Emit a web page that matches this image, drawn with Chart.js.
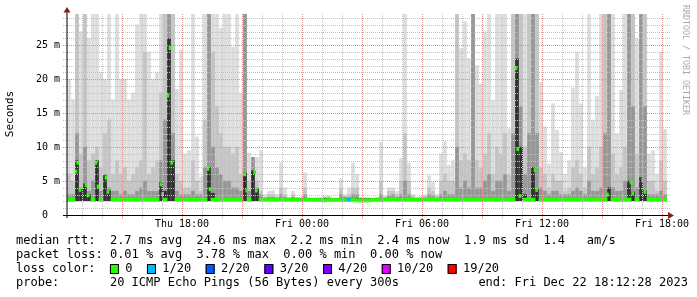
<!DOCTYPE html>
<html>
<head>
<meta charset="utf-8">
<script src="https://cdn.jsdelivr.net/npm/chart.js@4/dist/chart.umd.min.js"></script>
<style>
  html, body { margin: 0; padding: 0; background: #fff; }
  #wrap { width: 697px; height: 297px; position: relative; }
</style>
</head>
<body>
<div id="wrap"><canvas id="chart"></canvas></div>
<script>
// time axis: hours since Thu 00:00, one bin = 12 min
const startHour = 12.25;
const endHour = 42.25;
const binHours = 0.2;
const smokeFloor = 2.1;

// smoke, ms (top of each gray band, lightest to darkest)
const smokeMax = [
  20, 17, 29.6, 27, 29.6, 26, 29.6, 29.6, 21, 20,
  29.6, 17, 29.6, 20, 20, 17, 18, 28, 29.6, 29.6,
  24, 20, 21, 29.6, 29.6, 29.6, 29.6, 18.5, 24.3, 9,
  9.5, 29.6, 11.5, 5.6, 29.6, 29.6, 29.6, 29.6, 27.5, 29.6,
  29.6, 24.7, 29.6, 17.9, 29.6, 9.1, 8.5, 8.5, 9.5, 3,
  3.5, 3.6, 3, 7.7, 4, 2.6, 3.5, 2.6, 2.6, 6.2,
  2.6, 2.5, 2.5, 2.6, 2.8, 2.8, 2.5, 2.5, 5.3, 3,
  4, 7.6, 6, 2.6, 2.5, 2.5, 2.5, 2.6, 10.7, 2.8,
  4, 4, 3.5, 8.3, 29.6, 7.6, 3, 2.6, 2.8, 3,
  5.8, 4.8, 3, 9, 10.8, 7.3, 8, 29.6, 24.5, 28.5,
  23, 29.6, 22, 19.3, 27, 29.6, 16.8, 29.6, 29.6, 29.6,
  12.7, 29.6, 29.6, 29.6, 29.6, 29.6, 29.6, 29.6, 19.5, 13,
  7.5, 16.4, 12.5, 9.2, 6, 8, 18.7, 24, 16.4, 7,
  29.6, 14, 17.5, 29.6, 29.6, 29.6, 29.6, 12, 18.4, 29.6,
  29.6, 29.6, 26, 29.6, 29.6, 9, 9.5, 6, 24, 12.6
];
const smokeMid = [
  6, 5, 29.6, 9, 29.6, 8, 9, 10, 7, 12,
  14, 6, 8, 6, 7, 5, 6, 7, 8, 24,
  6, 7, 8, 18, 29.6, 29.6, 29.6, 6, 5, 4,
  4, 8, 5, 3.5, 14, 29.6, 24, 16, 12, 10,
  10, 9, 10, 6, 29.6, 5, 6, 5, 3.5, 2.6,
  3, 3, 2.6, 4, 3, 2.5, 3, 2.5, 2.5, 4,
  2.5, 2.5, 2.5, 2.5, 2.6, 2.6, 2.5, 2.5, 4, 2.8,
  3, 4, 4, 2.5, 2.5, 2.5, 2.5, 2.5, 5, 2.6,
  3.5, 3.5, 3, 5, 12, 5, 2.8, 2.5, 2.6, 2.8,
  4, 3.5, 2.8, 5, 6, 5, 5, 29.6, 8, 9,
  8, 29.6, 8, 7, 9, 12, 6, 10, 9, 12,
  6, 29.6, 29.6, 29.6, 10, 29.6, 29.6, 29.6, 7, 6,
  4, 6, 5, 5, 3.5, 4, 7, 8, 6, 4,
  10, 6, 7, 10, 29.6, 29.6, 9, 6, 7, 10,
  29.6, 29.6, 9, 29.6, 29.6, 5, 5, 3.5, 8, 5
];
const smokeDark = [
  3, 3, 12, 4, 10, 3.5, 5, 6, 3.5, 6,
  4, 3.5, 3.5, 3, 3.5, 3, 3, 3.5, 4, 5,
  3.5, 3.5, 3.5, 8, 14, 29.6, 12, 3.5, 3, 3,
  3, 3.5, 3, 3, 7, 29.6, 10, 7, 6, 5,
  5, 4, 4, 3.5, 29.6, 3.5, 8.5, 4, 3, 2.5,
  2.6, 2.6, 2.5, 3, 2.6, 2.4, 2.6, 2.4, 2.4, 3,
  2.4, 2.4, 2.4, 2.4, 2.5, 2.5, 2.4, 2.4, 3, 2.6,
  2.6, 3, 3, 2.4, 2.4, 2.4, 2.4, 2.4, 3, 2.4,
  2.8, 3, 2.6, 3, 5, 3, 2.5, 2.4, 2.4, 2.5,
  3, 2.8, 2.5, 3, 3.5, 3, 3, 10, 4, 5,
  4, 29.6, 4, 4, 5, 6, 3.5, 5, 5, 6,
  3.5, 12, 29.6, 16, 6, 12, 29.6, 12, 4, 3.5,
  3, 3.5, 3.5, 3, 3, 3, 3.5, 4, 3.5, 3,
  5, 3.5, 3.5, 4, 12, 29.6, 4, 3.5, 3.5, 5,
  29.6, 16, 4, 29.6, 16, 3, 3, 3, 3.5, 3
];
const smokeCore = [
  2.4, 2.4, 8, 3.8, 4.6, 3, 2.4, 8, 2.4, 5.8,
  3.6, 2.4, 2.4, 2.4, 2.4, 2.4, 2.4, 2.4, 2.4, 2.4,
  2.4, 2.4, 2.4, 4.8, 3.5, 26, 8, 2.4, 2.4, 2.4,
  2.4, 2.4, 2.4, 2.4, 2.4, 7, 3.2, 2.4, 2.4, 2.4,
  2.4, 2.4, 2.4, 2.4, 6.2, 2.4, 6.5, 3.8, 2.4, 2.4,
  2.4, 2.4, 2.4, 2.4, 2.4, 2.4, 2.4, 2.4, 2.4, 2.4,
  2.4, 2.4, 2.4, 2.4, 2.4, 2.4, 2.4, 2.4, 2.4, 2.4,
  2.4, 2.4, 2.4, 2.4, 2.4, 2.4, 2.4, 2.4, 2.4, 2.4,
  2.4, 2.4, 2.4, 2.4, 2.4, 2.4, 2.4, 2.4, 2.4, 2.4,
  2.4, 2.4, 2.4, 2.4, 2.4, 2.4, 2.4, 2.4, 2.4, 2.4,
  2.4, 2.4, 2.4, 2.4, 2.4, 2.4, 2.4, 2.4, 2.4, 2.4,
  2.4, 2.4, 23, 10, 3, 2.4, 7, 3.8, 2.4, 2.4,
  2.4, 2.4, 2.4, 2.4, 2.4, 2.4, 2.4, 2.4, 2.4, 2.4,
  2.4, 2.4, 2.4, 2.4, 2.4, 4, 2.4, 2.4, 2.4, 2.4,
  5, 3.4, 2.4, 5.5, 3.6, 2.4, 2.4, 2.4, 2.4, 2.4
];

// median rtt per bin (null where the median jumped, see spikes)
const median = [
  2.25, 2.25, null, null, null, null, 2.25, null, 2.25, null,
  null, 2.25, 2.25, 2.25, 2.25, 2.25, 2.25, 2.25, 2.25, 2.3,
  2.25, 2.25, 2.25, null, 2.25, null, null, 2.25, 2.25, 2.25,
  2.25, 2.25, 2.25, 2.25, 2.25, null, 2.25, 2.25, 2.25, 2.25,
  2.25, 2.25, 2.25, 2.25, null, 2.25, null, null, 2.25, 2.25,
  2.25, 2.25, 2.25, 2.25, 2.25, 2.25, 2.25, 2.25, 2.25, 2.25,
  2.2, 2.2, 2.2, 2.2, 2.15, 2.2, 2.2, 2.2, 2.2, 2.2,
  2.2, 2.2, 2.15, 2.15, 2.15, 2.15, 2.2, 2.2, 2.2, 2.3,
  2.3, 2.35, 2.25, 2.25, 2.25, 2.25, 2.25, 2.25, 2.25, 2.25,
  2.35, 2.35, 2.25, 2.25, 2.25, 2.25, 2.25, 2.25, 2.25, 2.25,
  2.25, 2.25, 2.25, 2.25, 2.25, 2.25, 2.25, 2.25, 2.25, 2.25,
  2.25, 2.25, null, null, 2.25, 2.25, 2.25, null, 2.25, 2.25,
  2.25, 2.25, 2.25, 2.25, 2.25, 2.25, 2.25, 2.25, 2.25, 2.25,
  2.25, 2.25, 2.25, 2.25, 2.25, null, 2.25, 2.25, 2.25, 2.25,
  2.25, null, 2.25, null, null, 2.25, 2.25, 2.25, 2.25, 2.25
];
// lost pings (of 20) per bin
const lossPerBin = [
  0, 0, 0, 0, 0, 0, 0, 0, 0, 0, 0, 0, 0, 0, 0, 0, 0, 0, 0, 0, 0, 0, 0, 0, 0, 0, 0, 0, 0, 0,
  0, 0, 0, 0, 0, 0, 0, 0, 0, 0, 0, 0, 0, 0, 0, 0, 0, 0, 0, 0, 0, 0, 0, 0, 0, 0, 0, 0, 0, 0,
  0, 0, 0, 0, 0, 0, 0, 0, 0, 0, 1, 0, 0, 0, 0, 0, 0, 0, 0, 0, 0, 0, 0, 0, 0, 0, 0, 0, 0, 0,
  0, 0, 0, 0, 0, 0, 0, 0, 0, 0, 0, 0, 0, 0, 0, 0, 0, 0, 0, 0, 0, 0, 0, 0, 0, 0, 0, 0, 0, 0,
  0, 0, 0, 0, 0, 0, 0, 0, 0, 0, 0, 0, 0, 0, 0, 0, 0, 0, 0, 0, 0, 0, 0, 0, 0, 0, 0, 0, 0, 0
];
// high median samples
const spikeHours = [12.70, 12.785, 12.90, 13.20, 13.30, 13.70, 13.80, 14.20, 14.30, 16.95,
  17.035, 17.30, 17.40, 17.485, 19.30, 19.40, 21.135, 21.235, 21.635, 21.715,
  34.70, 34.785, 34.90, 35.65, 35.735, 39.275, 40.45, 40.535, 41.035, 41.15];
const spikeMs = [6.4, 7.7, 3.7, 4.4, 2.9, 7.7, 4.2, 5.5, 3.4, 4.5,
  3.1, 17.6, 24.6, 7.7, 6.8, 3.8, 6.0, 3.6, 6.3, 3.6,
  21.6, 9.7, 2.8, 6.6, 3.7, 3.0, 4.8, 3.2, 5.2, 3.4];

const xTickHours = [18, 24, 30, 36, 42];
const xTickLabels = ['Thu 18:00', 'Fri 00:00', 'Fri 06:00', 'Fri 12:00', 'Fri 18:00'];
const yMax = 29.6;

const lossLabels = ['0', '1/20', '2/20', '3/20', '4/20', '10/20', '19/20'];
const lossThresholds = [0, 1, 2, 3, 4, 10, 19];
const lossColors = ['#26ff00', '#00b8ff', '#0059ff', '#5e00ff', '#7e00ff', '#dd00ff', '#ff0000'];

const statLines = [
  'median rtt:  2.7 ms avg  24.6 ms max  2.2 ms min  2.4 ms now  1.9 ms sd  1.4   am/s',
  'packet loss: 0.01 % avg  3.78 % max  0.00 % min  0.00 % now'
];
const probeLine = 'probe:       20 ICMP Echo Pings (56 Bytes) every 300s           end: Fri Dec 22 18:12:28 2023';
const watermark = 'RRDTOOL / TOBI OETIKER';

const MONO = "'DejaVu Sans Mono', monospace";
const halfMedian = 0.24;
const GRID_MINOR = '#c2c2c2';
const GRID_MAJOR = '#d98c8c';

function binCenter(i) {
  return startHour + binHours * i + binHours / 2;
}

function lossColor(n) {
  let c = lossColors[0];
  lossThresholds.forEach((t, k) => { if (n >= t) c = lossColors[k]; });
  return c;
}

function band(tops, color, order) {
  return {
    data: tops.map((v, i) => ({ x: binCenter(i), y: [smokeFloor, v] })),
    backgroundColor: color,
    barThickness: 3,
    order
  };
}

const medianPoints = [];
const medianColors = [];
median.forEach((v, i) => {
  if (v === null) return;
  medianPoints.push({ x: binCenter(i), y: [v - halfMedian, v + halfMedian] });
  medianColors.push(lossColor(lossPerBin[i]));
});

// rrdtool style dotted grid, drawn over the smoke
const dottedGrid = {
  id: 'dottedGrid',
  afterDatasetsDraw(chart) {
    const ctx = chart.ctx;
    const a = chart.chartArea;
    const xs = chart.scales.x;
    const ys = chart.scales.y;
    ctx.save();
    for (let h = Math.ceil(startHour); h <= Math.floor(endHour); h++) {
      const px = Math.round(xs.getPixelForValue(h));
      ctx.fillStyle = h % 3 === 0 ? GRID_MAJOR : GRID_MINOR;
      for (let y = Math.round(a.top); y <= a.bottom + 3; y += 2) ctx.fillRect(px, y, 1, 1);
    }
    for (let v = 1; v < yMax; v++) {
      const py = Math.round(ys.getPixelForValue(v));
      ctx.fillStyle = v % 5 === 0 ? GRID_MAJOR : GRID_MINOR;
      for (let x = a.left - 4; x <= a.right + 2; x += 2) ctx.fillRect(x, py, 1, 1);
    }
    ctx.restore();
  }
};

const overlay = {
  id: 'overlay',
  afterDraw(chart) {
    const ctx = chart.ctx;
    const a = chart.chartArea;
    ctx.save();

    // axes
    ctx.strokeStyle = '#000';
    ctx.lineWidth = 1;
    ctx.beginPath();
    ctx.moveTo(a.left, a.top - 2);
    ctx.lineTo(a.left, a.bottom + 3);
    ctx.moveTo(a.left - 4, a.bottom + 0.5);
    ctx.lineTo(a.right + 3, a.bottom + 0.5);
    ctx.stroke();

    ctx.fillStyle = '#8b1c1c';
    ctx.beginPath();
    ctx.moveTo(a.left - 3.5, a.top - 1.5);
    ctx.lineTo(a.left + 3.5, a.top - 1.5);
    ctx.lineTo(a.left, a.top - 7);
    ctx.closePath();
    ctx.fill();
    ctx.beginPath();
    ctx.moveTo(a.right + 1, a.bottom - 3);
    ctx.lineTo(a.right + 1, a.bottom + 4);
    ctx.lineTo(a.right + 7, a.bottom + 0.5);
    ctx.closePath();
    ctx.fill();

    // y title
    ctx.fillStyle = '#000';
    ctx.font = '11px ' + MONO;
    ctx.textAlign = 'center';
    ctx.textBaseline = 'middle';
    ctx.save();
    ctx.translate(10, 114);
    ctx.rotate(-Math.PI / 2);
    ctx.fillText('Seconds', 0, 0);
    ctx.restore();

    // watermark
    ctx.save();
    ctx.fillStyle = '#a9a9a9';
    ctx.font = '8.3px ' + MONO;
    ctx.textAlign = 'left';
    ctx.translate(685, 5);
    ctx.rotate(Math.PI / 2);
    ctx.fillText(watermark, 0, 0);
    ctx.restore();

    // legend block
    ctx.font = '12px ' + MONO;
    ctx.textAlign = 'left';
    ctx.textBaseline = 'middle';
    const cw = ctx.measureText('0').width;
    const left = 16;
    ctx.fillText(statLines[0], left, 241);
    ctx.fillText(statLines[1], left, 255);
    ctx.fillText('loss color:', left, 269);
    let cx = left + 13 * cw;
    lossLabels.forEach((lab, k) => {
      ctx.fillStyle = lossColors[k];
      ctx.fillRect(cx, 264.5, 9, 9);
      ctx.strokeStyle = '#000';
      ctx.strokeRect(cx + 0.5, 264.5, 8, 9);
      ctx.fillStyle = '#000';
      ctx.fillText(lab, cx + 15.3, 269);
      cx += 15.3 + lab.length * cw + 14.5;
    });
    ctx.fillText(probeLine, left, 283);
    ctx.restore();
  }
};

new Chart(document.getElementById('chart'), {
  type: 'bar',
  data: {
    datasets: [
      { data: medianPoints, backgroundColor: medianColors, barThickness: 4, order: 0 },
      {
        data: spikeHours.map((h, i) => ({ x: h, y: [spikeMs[i] - halfMedian, spikeMs[i] + halfMedian] })),
        backgroundColor: lossColors[0],
        barThickness: 2,
        order: 0
      },
      band(smokeCore, '#303030', 1),
      band(smokeDark, '#969696', 2),
      band(smokeMid, '#c4c4c4', 3),
      band(smokeMax, '#dcdcdc', 4)
    ]
  },
  options: {
    responsive: true,
    maintainAspectRatio: false,
    animation: false,
    devicePixelRatio: 1,
    layout: { padding: { top: 14, right: 30, left: 0, bottom: 0 } },
    datasets: {
      bar: { grouped: false, borderWidth: 0, barPercentage: 1, categoryPercentage: 1 }
    },
    plugins: { legend: { display: false }, tooltip: { enabled: false } },
    scales: {
      x: {
        type: 'linear',
        offset: false,
        min: startHour,
        max: endHour,
        afterBuildTicks: (axis) => {
          axis.ticks = xTickHours.map((h) => ({ value: h }));
        },
        afterFit: (s) => { s.height = 82; },
        grid: { display: false, drawTicks: false, offset: false },
        border: { display: false },
        ticks: {
          autoSkip: false,
          maxRotation: 0,
          minRotation: 0,
          padding: 3,
          color: '#000',
          font: { family: MONO, size: 10 },
          callback: (v) => {
            const k = xTickHours.indexOf(v);
            return k >= 0 ? xTickLabels[k] : '';
          }
        }
      },
      y: {
        min: 0,
        max: yMax,
        afterBuildTicks: (axis) => {
          const t = [];
          for (let v = 0; v < yMax; v += 5) t.push({ value: v });
          axis.ticks = t;
        },
        afterFit: (s) => { s.width = 67; },
        grid: { display: false, drawTicks: false },
        border: { display: false },
        ticks: {
          autoSkip: false,
          padding: 7,
          color: '#000',
          font: { family: MONO, size: 10 },
          callback: (v) => (v === 0 ? '0  ' : v + ' m')
        }
      }
    }
  },
  plugins: [dottedGrid, overlay]
});
</script>
</body>
</html>
